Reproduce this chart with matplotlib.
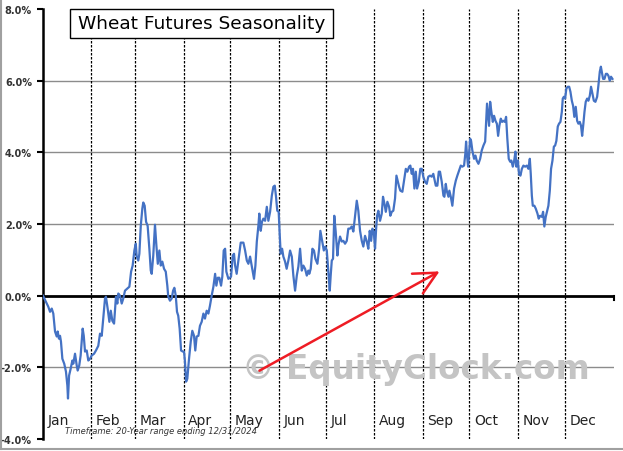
import matplotlib
matplotlib.use("Agg")
import matplotlib.pyplot as plt
from matplotlib.patches import Rectangle
from matplotlib.lines import Line2D

# ---------------- data ----------------
title = "Wheat Futures Seasonality"
months = ["Jan", "Feb", "Mar", "Apr", "May", "Jun", "Jul", "Aug", "Sep", "Oct", "Nov", "Dec"]
month_start_days = [0, 31, 59, 90, 120, 151, 181, 212, 243, 273, 304, 334]
ytick_values = [-4, -2, 0, 2, 4, 6, 8]
ytick_labels = ["-4.0%", "-2.0%", "0.0%", "2.0%", "4.0%", "6.0%", "8.0%"]
footnote = "Timeframe: 20-Year range ending 12/31/2024"
watermark = "\u00a9 EquityClock.com"

day_of_year = [
    0.0, 2.4, 3.4, 4.5, 5.6, 6.6, 7.7, 8.8, 9.4, 10.2, 10.9, 11.5, 12.4, 13.6, 14.7, 15.6, 16.0,
    16.7, 17.7, 18.8, 19.4, 20.5, 21.6, 22.2, 23.2, 24.1, 25.4, 26.1, 26.9, 28.0, 29.0, 30.1,
    31.2, 32.7, 33.9, 35.4, 36.5, 37.6, 38.6, 39.7, 40.3, 41.4, 42.5, 43.4, 44.4, 45.5, 46.7,
    47.6, 48.2, 49.3, 50.4, 51.4, 52.5, 54.0, 55.3, 56.4, 57.4, 58.5, 59.4, 60.0, 61.0, 61.7,
    62.6, 63.6, 64.2, 65.1, 66.0, 67.0, 68.1, 69.0, 69.6, 70.6, 71.7, 72.6, 73.5, 74.5, 75.4,
    76.4, 77.5, 78.6, 79.6, 80.2, 81.3, 82.4, 83.3, 84.1, 85.0, 85.8, 86.6, 87.5, 88.4, 89.5,
    90.3, 90.9, 91.6, 92.4, 93.5, 94.6, 95.6, 96.7, 97.5, 98.4, 99.5, 100.5, 101.6, 102.7,
    103.7, 104.8, 105.9, 106.9, 108.0, 109.1, 110.2, 111.0, 111.9, 112.9, 114.0, 114.8, 115.7,
    116.6, 117.4, 118.7, 120.4, 121.5, 122.3, 123.0, 124.0, 125.1, 126.6, 128.3, 129.4, 130.5,
    131.5, 132.6, 133.7, 135.1, 136.0, 136.9, 137.9, 138.5, 139.4, 140.2, 141.1, 142.2, 143.3,
    144.3, 145.4, 146.5, 147.5, 148.4, 149.2, 150.0, 150.9, 151.6, 152.2, 153.1, 153.9, 155.0,
    156.0, 157.1, 158.2, 159.3, 160.3, 161.4, 162.5, 163.5, 164.6, 165.7, 166.7, 167.8, 168.9,
    169.9, 170.5, 171.4, 172.5, 173.5, 174.4, 175.7, 176.8, 177.6, 178.7, 179.8, 180.8, 181.7,
    182.7, 183.6, 184.2, 184.9, 185.7, 186.5, 187.4, 188.5, 189.1, 190.2, 191.3, 192.3, 193.4,
    194.5, 195.5, 196.6, 197.7, 198.7, 199.8, 200.9, 201.9, 203.0, 204.1, 205.1, 206.2, 207.3,
    208.3, 209.2, 210.1, 210.9, 211.8, 212.6, 213.3, 213.9, 214.7, 215.8, 216.9, 217.7, 218.6,
    219.5, 220.5, 221.6, 222.4, 223.3, 224.3, 225.4, 226.3, 227.2, 228.0, 228.8, 230.1, 231.2,
    232.3, 233.3, 234.4, 235.2, 236.1, 236.9, 237.8, 238.7, 239.5, 240.6, 241.6, 242.5, 243.5,
    244.6, 245.7, 246.7, 247.8, 248.9, 249.9, 250.6, 251.5, 252.5, 253.4, 254.2, 255.3, 256.4,
    257.0, 257.9, 258.5, 259.6, 260.2, 261.1, 262.1, 263.2, 264.3, 265.3, 266.4, 267.5, 268.5,
    269.6, 270.4, 270.9, 271.5, 272.2, 272.8, 273.5, 274.1, 274.9, 276.0, 276.9, 277.7, 278.8,
    279.9, 280.9, 282.0, 283.1, 283.7, 284.3, 285.0, 285.6, 286.3, 287.1, 288.0, 288.8, 289.7,
    290.6, 291.4, 292.2, 293.1, 294.0, 294.8, 295.7, 296.5, 297.3, 298.2, 299.1, 299.9, 300.8,
    301.6, 302.5, 303.1, 304.0, 304.8, 305.7, 306.6, 307.6, 308.7, 309.8, 310.8, 311.7, 312.3,
    313.0, 313.6, 314.6, 315.5, 316.6, 317.4, 318.3, 319.4, 320.2, 321.0, 321.9, 322.8, 323.6,
    324.5, 325.3, 326.2, 327.1, 327.9, 328.7, 329.6, 330.4, 331.3, 332.2, 332.8, 333.5, 334.3,
    335.1, 336.0, 336.9, 337.7, 338.6, 339.4, 340.2, 341.1, 342.0, 342.8, 343.7, 344.5, 345.2,
    346.0, 346.7, 347.5, 348.4, 349.2, 350.1, 350.9, 351.8, 352.7, 353.7, 354.8, 355.6, 356.5,
    357.2, 357.8, 358.6, 359.5, 360.4, 361.2, 362.0, 362.9, 363.7, 364.6,
]
avg_return_pct = [
    0.00, -0.22, -0.31, -0.45, -0.36, -0.50, -1.00, -1.14, -1.00, -1.20, -1.12, -1.28, -1.76,
    -1.90, -2.12, -2.51, -2.87, -2.23, -2.04, -1.81, -1.90, -1.62, -1.95, -2.09, -1.95, -1.67,
    -0.92, -1.12, -1.56, -1.53, -1.81, -1.76, -1.67, -1.62, -1.53, -1.40, -1.06, -1.12, -0.64,
    -0.08, -0.03, -0.36, -0.73, -0.42, -0.70, -0.78, -0.03, -0.22, 0.06, 0.00, -0.22, -0.08,
    0.14, 0.20, 0.25, 0.67, 0.84, 1.26, 1.45, 1.09, 0.98, 1.17, 1.95, 2.43, 2.60, 2.51, 2.06,
    1.95, 1.31, 0.70, 0.61, 1.12, 1.98, 1.40, 0.89, 1.26, 0.84, 0.95, 0.75, 0.67, 0.28, -0.03,
    -0.14, -0.08, 0.14, 0.22, 0.00, -0.45, -0.56, -0.92, -1.53, -1.56, -1.56, -1.84, -2.40,
    -2.32, -1.76, -1.28, -0.98, -1.12, -1.53, -1.14, -1.12, -0.84, -0.73, -0.50, -0.64, -0.42,
    -0.50, -0.28, 0.00, 0.25, 0.61, 0.28, 0.50, 0.50, 0.28, 0.53, 1.26, 1.31, 0.67, 0.47, 0.53,
    1.12, 1.17, 0.84, 0.61, 0.98, 1.48, 1.48, 1.26, 0.98, 0.89, 1.09, 0.81, 0.47, 0.84, 1.51,
    1.95, 2.29, 1.81, 2.06, 2.15, 2.09, 2.48, 2.09, 2.34, 2.79, 3.04, 3.07, 2.76, 2.37, 2.34,
    1.67, 1.17, 1.31, 1.09, 0.95, 0.75, 0.98, 1.26, 1.09, 0.56, 0.14, 0.56, 0.81, 1.31, 0.70,
    0.84, 0.75, 0.56, 0.70, 0.61, 0.75, 1.31, 1.26, 1.03, 0.89, 1.31, 1.81, 1.53, 1.26, 1.37,
    1.26, 0.67, 0.14, 0.56, 0.98, 1.03, 2.23, 1.79, 1.12, 1.40, 1.65, 1.51, 1.53, 1.45, 1.53,
    1.87, 1.87, 1.93, 1.79, 2.23, 2.65, 2.37, 1.81, 1.53, 1.37, 1.67, 1.51, 1.31, 1.81, 1.53,
    1.87, 1.79, 1.31, 1.87, 2.23, 2.37, 2.09, 2.29, 2.76, 2.57, 2.34, 2.62, 2.48, 2.23, 2.34,
    2.37, 2.71, 3.35, 3.18, 3.04, 2.93, 2.90, 3.21, 3.54, 3.46, 3.60, 3.63, 3.40, 3.54, 2.99,
    3.46, 2.99, 3.18, 3.54, 3.54, 3.32, 3.18, 3.12, 3.32, 3.35, 3.32, 3.40, 3.26, 3.07, 3.07,
    3.46, 3.46, 3.18, 2.79, 2.76, 3.12, 2.93, 2.76, 2.93, 2.76, 2.51, 2.99, 3.21, 3.35, 3.49,
    3.63, 3.60, 3.63, 3.96, 4.30, 3.91, 3.60, 3.96, 4.38, 4.32, 4.05, 3.82, 3.91, 3.77, 3.68,
    3.82, 4.05, 4.19, 4.30, 4.85, 5.36, 5.02, 4.74, 5.41, 5.13, 4.85, 5.02, 4.88, 4.80, 4.46,
    4.74, 4.94, 4.85, 4.88, 4.85, 4.99, 4.38, 3.82, 3.74, 3.77, 3.60, 3.74, 4.02, 3.60, 3.77,
    3.40, 3.35, 3.54, 3.63, 3.60, 3.63, 3.54, 3.82, 3.40, 2.79, 2.51, 2.51, 2.43, 2.29, 2.15,
    2.23, 2.20, 2.34, 1.93, 2.20, 2.37, 2.51, 2.93, 3.54, 3.77, 4.16, 4.19, 4.32, 4.72, 4.80,
    4.85, 5.13, 5.50, 5.55, 5.50, 5.78, 5.83, 5.83, 5.69, 5.44, 5.30, 4.99, 5.27, 4.88, 4.80,
    4.85, 4.74, 4.46, 4.80, 5.13, 5.41, 5.50, 5.44, 5.58, 5.83, 5.64, 5.44, 5.41, 5.55, 5.86,
    6.25, 6.39, 6.25, 6.05, 6.05, 6.19, 6.19, 6.14, 6.00, 6.11, 6.05,
]

# ---------------- figure ----------------
W, H = 623, 452
fig = plt.figure(figsize=(W / 100, H / 100), dpi=100)
fig.patch.set_facecolor("white")

ax_left, ax_right, ax_top, ax_bottom = 43, 614, 10, 440
ax = fig.add_axes([ax_left / W, (H - ax_bottom) / H,
                   (ax_right - ax_left) / W, (ax_bottom - ax_top) / H])
ax.set_xlim(0, 365.6)
ax.set_ylim(-4, 8)

for s in ["top", "right", "bottom"]:
    ax.spines[s].set_visible(False)
ax.spines["left"].set_linewidth(1.8)
ax.spines["left"].set_color("black")

ax.set_xticks([])
ax.set_yticks(ytick_values)
ax.set_yticklabels(ytick_labels, fontsize=7, fontweight="bold", color="#333333")
ax.tick_params(axis="y", length=4, width=1.5, color="black", pad=4)

# horizontal grid lines
for v in ytick_values:
    if v not in (0, -4, 8):
        ax.axhline(v, color="#8c8c8c", lw=1.0, zorder=1)

# zero line
ax.axhline(0, color="black", lw=2.0, zorder=3)
ax.plot([365.6, 365.6], [0, -0.12], color="black", lw=1.5, zorder=3, clip_on=False)

# month separator lines
for d in month_start_days[1:]:
    ax.axvline(d, color="black", lw=0.9, ls=(0, (2.0, 1.2)), zorder=2)

# month labels
for name, d in zip(months, month_start_days):
    ax.text(d + 3, -3.46, name, fontsize=10, color="#222222", ha="left", va="center", zorder=4)

# watermark
ax.text(0.653, 0.165, watermark, transform=ax.transAxes, fontsize=23.5, fontweight="bold",
        color="#c4c4c4", ha="center", va="center", zorder=2.5)

# data line
ax.plot(day_of_year, avg_return_pct, color="#4472C4", lw=1.6, zorder=5)

# red arrow
ax.annotate("", xy=(0.6988, 0.393), xytext=(0.3748, 0.1558),
            xycoords="axes fraction", textcoords="axes fraction",
            arrowprops=dict(arrowstyle="->,head_length=0.9,head_width=0.45",
                            color="#ee1c24", lw=1.8, mutation_scale=18), zorder=6)

# title box
bx0, bx1, by0, by1 = 70, 333, 10, 39
ax.add_patch(Rectangle(((bx0 - ax_left) / (ax_right - ax_left), (ax_bottom - by1) / (ax_bottom - ax_top)),
                       (bx1 - bx0) / (ax_right - ax_left), (by1 - by0) / (ax_bottom - ax_top),
                       transform=ax.transAxes, facecolor="white", edgecolor="black", lw=1.0,
                       zorder=7, clip_on=False))
ax.text(((bx0 + bx1) / 2 - ax_left) / (ax_right - ax_left),
        (ax_bottom - (by0 + by1) / 2) / (ax_bottom - ax_top), title,
        transform=ax.transAxes, fontsize=13.3, color="black", ha="center", va="center", zorder=8)

# footnote
fig.text(65 / W, 1 - 432 / H, footnote, fontsize=6, style="italic", color="#333333",
         ha="left", va="center")

# figure border (left and bottom)
fig.add_artist(Line2D([1 / W, 1 / W], [1 - 450 / H, 1], transform=fig.transFigure,
                      color="#a0a0a0", lw=1.5))
fig.add_artist(Line2D([0, 1], [1 - 450 / H, 1 - 450 / H], transform=fig.transFigure,
                      color="#a0a0a0", lw=1.5))

fig.savefig("out.png", dpi=100, facecolor="white")
